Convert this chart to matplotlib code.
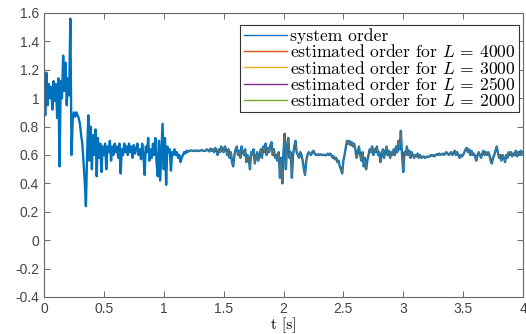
import numpy as np
import matplotlib
matplotlib.use("Agg")
import matplotlib.pyplot as plt

# time axis: one sample every 0.01 s from 0 to 4 s
t = np.linspace(0, 4, 401)

# system order (one row = 0.1 s)
order = [
    1.15, 0.88, 1.18, 0.95, 1.1, 1.0, 1.08, 0.92, 1.12, 0.98,
    1.1, 0.86, 1.14, 0.52, 1.12, 1.0, 1.3, 1.05, 1.25, 0.95,
    1.14, 1.02, 1.56, 0.6, 0.86, 0.9, 0.87, 0.9, 0.88, 0.86,
    0.82, 0.74, 0.68, 0.55, 0.42, 0.24, 0.6, 0.88, 0.56, 0.8,
    0.5, 0.74, 0.6, 0.78, 0.45, 0.72, 0.58, 0.68, 0.48, 0.66,
    0.6, 0.68, 0.5, 0.66, 0.62, 0.7, 0.56, 0.66, 0.6, 0.68,
    0.62, 0.66, 0.58, 0.68, 0.47, 0.64, 0.6, 0.68, 0.62, 0.66,
    0.6, 0.68, 0.62, 0.66, 0.58, 0.67, 0.61, 0.64, 0.68, 0.6,
    0.64, 0.57, 0.68, 0.6, 0.46, 0.66, 0.62, 0.72, 0.56, 0.64,
    0.58, 0.68, 0.6, 0.72, 0.55, 0.45, 0.7, 0.42, 0.62, 0.82,
    0.5, 0.72, 0.39, 0.66, 0.62, 0.64, 0.49, 0.62, 0.6, 0.64,
    0.6, 0.62, 0.58, 0.6, 0.55, 0.58, 0.6, 0.62, 0.61, 0.63,
    0.62, 0.63, 0.63, 0.632, 0.63, 0.628, 0.632, 0.63, 0.63, 0.628,
    0.63, 0.632, 0.635, 0.63, 0.628, 0.63, 0.64, 0.632, 0.625, 0.645,
    0.63, 0.64, 0.62, 0.65, 0.63, 0.6, 0.64, 0.62, 0.66, 0.63,
    0.62, 0.66, 0.64, 0.6, 0.64, 0.58, 0.62, 0.55, 0.52, 0.6,
    0.64, 0.66, 0.6, 0.63, 0.58, 0.66, 0.62, 0.6, 0.64, 0.55,
    0.6, 0.57, 0.5, 0.62, 0.6, 0.64, 0.54, 0.58, 0.62, 0.56,
    0.6, 0.64, 0.58, 0.66, 0.62, 0.68, 0.6, 0.65, 0.62, 0.67,
    0.69, 0.6, 0.64, 0.58, 0.6, 0.56, 0.62, 0.44, 0.58, 0.4,
    0.62, 0.75, 0.5, 0.66, 0.72, 0.58, 0.62, 0.44, 0.6, 0.66,
    0.7, 0.62, 0.6, 0.58, 0.62, 0.6, 0.56, 0.5, 0.46, 0.56,
    0.6, 0.62, 0.61, 0.6, 0.62, 0.63, 0.61, 0.6, 0.6, 0.605,
    0.6, 0.605, 0.6, 0.6, 0.602, 0.598, 0.6, 0.61, 0.6, 0.61,
    0.6, 0.58, 0.59, 0.57, 0.58, 0.55, 0.56, 0.52, 0.5, 0.47,
    0.56, 0.6, 0.65, 0.7, 0.68, 0.7, 0.67, 0.69, 0.66, 0.68,
    0.64, 0.58, 0.62, 0.66, 0.6, 0.56, 0.62, 0.52, 0.58, 0.5,
    0.56, 0.6, 0.64, 0.62, 0.66, 0.6, 0.64, 0.62, 0.66, 0.6,
    0.62, 0.55, 0.6, 0.64, 0.58, 0.62, 0.66, 0.6, 0.63, 0.58,
    0.62, 0.6, 0.64, 0.6, 0.66, 0.62, 0.7, 0.64, 0.77, 0.6,
    0.48, 0.62, 0.6, 0.66, 0.6, 0.63, 0.58, 0.62, 0.6, 0.58,
    0.6, 0.59, 0.61, 0.58, 0.6, 0.58, 0.585, 0.59, 0.58, 0.585,
    0.59, 0.585, 0.59, 0.6, 0.595, 0.6, 0.59, 0.6, 0.605, 0.6,
    0.61, 0.6, 0.605, 0.61, 0.6, 0.61, 0.62, 0.61, 0.6, 0.61,
    0.62, 0.6, 0.61, 0.63, 0.6, 0.62, 0.6, 0.58, 0.6, 0.59,
    0.6, 0.62, 0.64, 0.65, 0.62, 0.64, 0.6, 0.63, 0.6, 0.61,
    0.59, 0.56, 0.6, 0.62, 0.6, 0.58, 0.61, 0.63, 0.6, 0.62,
    0.6, 0.62, 0.6, 0.56, 0.54, 0.58, 0.6, 0.63, 0.66, 0.62,
    0.58, 0.6, 0.56, 0.6, 0.58, 0.55, 0.6, 0.58, 0.62, 0.6,
    0.62, 0.59, 0.61, 0.6, 0.63, 0.59, 0.62, 0.6, 0.63, 0.61, 0.62,
]

# estimates start once the window is full (t = 1.2 s) and track the order
est_start = 120
window_sizes = [4000, 3000, 2500, 2000]
est_colors = ["#D95319", "#EDB120", "#7E2F8E", "#77AC30"]

xticks = [0, 0.5, 1, 1.5, 2, 2.5, 3, 3.5, 4]
yticks = [-0.4, -0.2, 0, 0.2, 0.4, 0.6, 0.8, 1, 1.2, 1.4, 1.6]

plt.rcParams["mathtext.fontset"] = "cm"
plt.rcParams["axes.unicode_minus"] = False

fig = plt.figure(figsize=(5.26, 3.34), dpi=100)
ax = fig.add_axes([44 / 526, 37 / 334, 479 / 526, 284 / 334])

ax.plot(t, order, color="#0072BD", lw=1.7, label="system order")
for L, c in zip(window_sizes, est_colors):
    ax.plot(t[est_start:], order[est_start:], color=c, lw=0.5, alpha=0.25,
            label="estimated order for $L$ = %d" % L)

ax.set_xlim(0, 4)
ax.set_ylim(-0.4, 1.6)
ax.set_xticks(xticks)
ax.set_yticks(yticks)
ax.set_xticklabels(["%g" % v for v in xticks], family="Liberation Sans", fontsize=10, color="#444444")
ax.set_yticklabels(["%g" % v for v in yticks], family="Liberation Sans", fontsize=10, color="#444444")
ax.tick_params(direction="in", top=True, right=True, length=4, width=0.6, color="#555555")
for s in ax.spines.values():
    s.set_color("#666666")
    s.set_linewidth(0.8)

ax.set_xlabel("t [s]", family="cmr10", fontsize=11, labelpad=1)

leg = ax.legend(loc="upper right", bbox_to_anchor=(0.992, 0.958), borderaxespad=0,
                fancybox=False, edgecolor="#333333", prop={"family": "cmr10", "size": 12.6},
                handlelength=2.5, handletextpad=0.15, labelspacing=-0.05,
                borderpad=0.2, framealpha=1)
leg.get_frame().set_linewidth(0.8)
for h in leg.get_lines():
    h.set_linewidth(1.0)
    h.set_alpha(1)

fig.savefig("out.png", dpi=100)
